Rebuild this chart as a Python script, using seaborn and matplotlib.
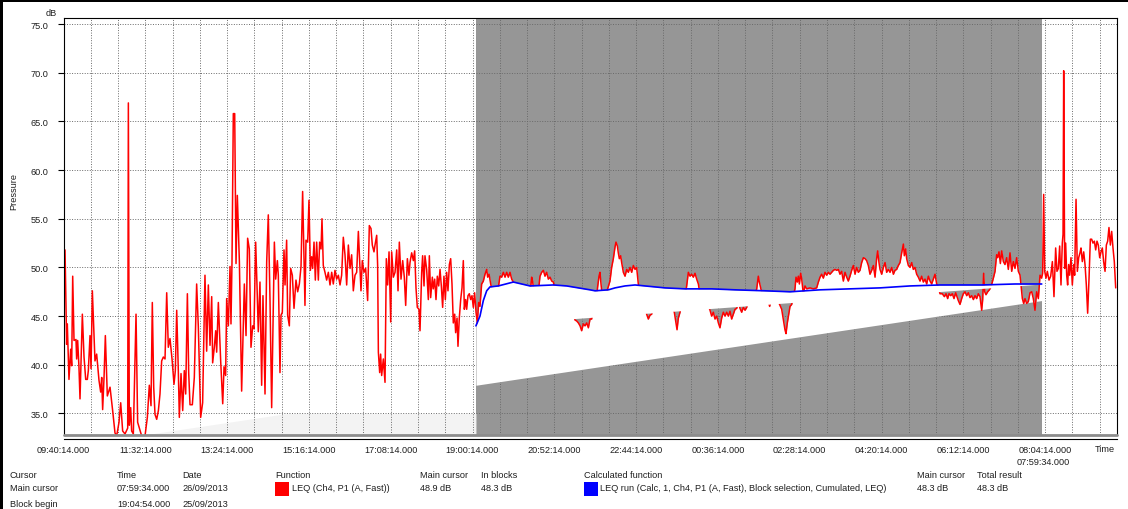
import numpy as np
import pandas as pd
import matplotlib
matplotlib.use("Agg")
import matplotlib.pyplot as plt
import seaborn as sns
from matplotlib.ticker import FuncFormatter
from matplotlib.patches import Rectangle

# ---------------- data (minutes after 25/09/2013 09:40:14, dB) ----------------
START = pd.Timestamp("2013-09-25 09:40:14")
block_begin_min = 564.67      # 19:04:54.000
cursor_min = 1339.33          # 07:59:34.000 (main cursor / block end)
x_end_min = 1441.7
y_range = (32.79, 75.62)
y_ticks = [35.0, 40.0, 45.0, 50.0, 55.0, 60.0, 65.0, 70.0, 75.0]
x_label_step = 112.0
x_grid_step = 112.0 / 3
block_floor_db = (37.9, 46.6)   # lower edge of the white selection polygon

red_before_block = [
    (0.0, 50.0), (2.1, 51.8), (4.3, 42.1), (5.2, 44.2), (7.5, 38.5), (9.8, 41.6), (11.2, 39.9),
    (12.6, 49.1), (14.4, 42.5), (17.1, 42.6), (18.0, 40.6), (19.4, 42.5), (21.2, 39.7), (22.6, 36.5),
    (25.8, 45.2), (28.1, 40.8), (30.4, 38.5), (32.6, 38.5), (34.0, 39.4), (36.3, 43.0), (37.7, 39.6),
    (39.5, 47.6), (43.1, 40.4), (45.4, 41.1), (48.6, 38.4), (50.9, 37.2), (52.3, 38.7), (53.6, 35.4),
    (55.5, 38.7), (57.3, 43.0), (60.0, 36.8), (63.7, 37.7), (67.3, 35.3), (70.5, 33.0), (72.8, 32.7),
    (76.0, 34.1), (78.3, 36.1), (81.0, 33.2), (84.2, 32.9), (87.9, 33.5), (88.8, 66.9), (90.1, 33.8),
    (92.0, 35.6), (93.3, 33.2), (95.6, 32.9), (99.3, 45.2), (101.5, 34.1), (104.7, 33.3), (107.0, 32.7),
    (111.6, 32.7), (114.8, 34.6), (117.5, 37.9), (119.8, 35.8), (121.6, 46.4), (123.5, 37.7), (125.3, 34.9),
    (127.6, 34.4), (129.9, 35.3), (132.1, 37.0), (134.4, 40.4), (136.7, 40.8), (139.0, 40.6), (141.3, 47.4),
    (143.5, 41.8), (145.8, 42.7), (148.6, 40.6), (151.3, 38.0), (153.1, 39.4), (155.0, 45.6), (157.2, 39.4),
    (158.6, 34.6), (160.9, 39.1), (163.2, 35.3), (165.4, 39.4), (167.3, 37.0), (169.6, 47.3), (171.4, 39.2),
    (173.2, 35.9), (176.4, 35.9), (179.1, 38.7), (182.3, 48.3), (184.6, 43.9), (187.8, 34.6), (190.5, 36.1),
    (193.7, 49.2), (196.0, 41.4), (198.3, 48.2), (200.6, 42.0), (202.9, 47.0), (204.2, 40.2), (206.5, 41.8),
    (208.4, 43.5), (209.7, 41.3), (212.0, 46.4), (215.2, 40.4), (218.0, 36.0), (219.8, 39.8), (222.0, 38.9),
    (223.4, 46.8), (225.7, 44.0), (228.0, 50.1), (229.3, 44.2), (230.7, 50.6), (232.5, 65.8), (234.4, 65.8),
    (236.2, 50.4), (238.0, 57.4), (240.8, 50.6),
    (243.9, 37.3), (247.6, 48.3), (249.9, 43.0), (252.1, 53.0), (254.4, 51.9), (256.7, 41.8), (259.0, 44.0),
    (260.8, 43.7), (263.1, 52.6), (264.9, 48.2), (266.7, 43.4), (269.0, 48.5), (271.3, 37.9), (273.1, 47.1),
    (275.9, 37.0), (278.2, 50.6), (280.4, 55.4), (282.7, 46.8), (285.0, 35.6), (288.7, 52.6), (290.5, 48.8),
    (292.8, 50.7), (294.1, 49.2), (296.4, 39.2), (297.8, 45.1), (299.6, 45.4), (301.9, 51.8), (303.3, 48.2),
    (305.5, 52.8), (306.9, 45.1), (309.2, 44.0), (311.0, 49.9), (313.3, 49.2), (315.6, 45.8), (318.3, 48.7),
    (320.6, 47.5), (322.9, 48.3), (325.2, 50.1), (327.4, 57.8), (330.6, 46.1), (332.0, 52.8), (334.3, 52.6),
    (336.1, 56.9), (338.0, 49.7), (339.8, 51.1), (341.1, 49.9), (343.0, 52.6), (344.8, 48.7), (346.6, 52.6),
    (348.9, 48.7), (350.7, 52.6), (352.6, 51.9), (353.9, 55.0), (355.7, 50.2), (358.0, 49.5), (360.3, 48.7),
    (362.6, 49.5), (364.9, 48.2), (367.2, 49.5), (369.4, 48.3), (371.7, 49.7), (374.0, 48.8), (376.3, 49.2),
    (378.6, 48.2), (380.8, 49.2), (383.1, 53.1), (385.4, 51.3), (387.7, 48.2), (390.0, 52.3), (392.3, 49.9),
    (394.5, 51.3), (396.8, 47.6), (399.1, 49.2), (401.4, 49.5), (403.7, 53.7), (406.0, 49.9), (407.3, 47.6),
    (409.1, 50.7), (411.4, 49.5), (413.7, 49.9), (416.4, 46.6), (418.7, 54.3), (421.0, 54.0), (422.8, 52.3),
    (425.1, 51.6), (426.5, 52.3), (428.8, 53.3), (430.1, 50.2), (431.1, 41.3), (432.9, 39.2), (434.2, 41.1),
    (435.6, 38.9), (437.9, 40.6), (440.2, 38.2), (442.0, 50.9), (443.8, 48.2), (445.7, 51.6), (448.0, 44.4),
    (449.3, 51.6), (451.6, 49.0), (453.9, 49.5), (456.2, 51.8), (458.0, 47.6), (459.8, 52.6), (462.1, 48.8),
    (464.4, 50.7), (466.6, 49.0), (468.5, 46.1), (470.8, 50.9), (473.0, 49.2),
    (474.4, 50.5), (476.7, 51.5), (479.0, 50.7), (480.8, 51.7), (482.6, 47.9), (484.4, 45.9), (486.7, 45.7),
    (488.1, 43.5), (490.4, 49.5), (491.7, 51.2), (493.6, 48.1), (494.9, 51.2), (497.2, 49.8), (499.5, 46.7),
    (500.9, 51.2), (502.7, 46.9), (505.0, 49.0), (506.3, 47.8), (508.2, 48.8), (510.0, 46.7), (511.8, 49.1),
    (513.7, 48.1), (515.5, 49.8), (517.3, 48.1), (519.1, 45.9), (520.9, 49.1), (522.8, 46.7), (524.6, 49.5),
    (526.4, 47.6), (528.3, 50.3), (530.1, 50.9), (531.9, 48.3), (533.7, 44.3), (535.6, 45.2), (536.9, 43.3),
    (538.8, 44.8), (540.1, 41.9), (541.9, 44.8), (543.8, 46.7), (545.6, 47.9), (547.4, 50.7), (548.8, 45.7),
    (550.6, 46.7), (552.0, 45.7), (553.8, 47.1), (555.6, 47.3), (557.5, 46.7), (559.3, 47.1), (561.1, 45.9),
    (562.9, 47.4),
]

red_in_block = [
    (564.8, 45.4), (566.6, 44.3), (568.4, 46.4), (570.2, 46.0), (572.5, 48.3), (574.8, 48.6), (577.1, 49.3),
    (579.4, 49.8), (580.7, 49.0), (582.6, 49.3), (584.9, 48.3), (588.5, 47.0), (594.0, 47.2), (597.6, 49.1),
    (599.9, 49.0), (602.2, 49.5), (604.5, 49.0), (606.8, 49.5), (609.0, 49.0), (611.3, 49.5), (613.6, 48.8),
    (615.9, 48.5), (619.5, 47.3), (629.6, 47.0), (638.7, 47.2), (641.0, 49.0), (642.4, 48.5), (644.2, 47.3),
    (650.1, 47.5), (652.4, 49.1), (654.7, 49.5), (657.0, 49.7), (659.2, 49.1), (661.5, 49.5), (663.8, 48.8),
    (666.1, 49.0), (668.4, 48.6), (670.7, 48.5), (673.9, 47.3), (684.3, 46.5), (695.8, 46.0), (700.3, 44.6),
    (702.6, 44.5), (704.9, 44.3), (707.2, 44.0), (709.4, 43.5), (711.7, 44.2), (714.0, 44.0), (716.3, 44.3),
    (718.6, 43.8), (720.9, 44.7), (723.1, 44.7), (725.4, 46.0), (730.0, 47.0), (731.3, 48.0), (733.2, 49.1),
    (734.5, 49.5), (735.9, 48.3), (737.7, 47.0), (742.3, 47.0), (745.0, 47.8), (748.2, 48.6), (750.5, 50.0),
    (752.8, 50.9), (755.1, 52.1), (756.4, 52.6), (758.3, 52.2), (759.6, 51.5), (761.0, 50.9), (762.8, 51.2),
    (764.2, 50.5), (766.5, 49.5), (768.8, 49.1), (771.1, 49.8), (773.3, 49.5), (775.6, 50.0), (777.9, 49.5),
    (780.2, 50.2), (782.5, 49.8), (784.7, 50.0), (787.0, 48.3), (789.3, 47.2), (796.2, 46.0), (798.4, 45.2),
    (800.7, 44.7), (803.0, 45.1), (805.3, 45.2), (807.6, 46.2), (819.0, 47.5), (832.7, 46.0), (836.3, 45.4),
    (838.1, 44.5), (840.0, 43.6), (841.8, 44.8), (844.1, 45.4), (846.4, 46.3), (850.9, 47.0), (853.2, 48.1),
    (855.5, 49.5), (857.8, 49.1), (860.0, 49.3), (862.3, 49.0), (864.6, 49.4), (866.9, 48.8), (869.2, 48.3),
    (871.5, 47.2), (880.6, 46.5), (885.2, 45.6), (887.4, 45.0), (889.7, 45.4), (892.0, 44.7), (894.3, 45.0),
    (896.6, 44.3), (898.8, 43.8), (901.1, 44.8), (903.4, 45.4), (905.7, 45.0), (908.0, 45.4), (910.3, 45.0),
    (912.5, 45.5), (914.8, 44.7), (917.1, 45.2), (919.4, 45.7), (921.7, 45.8), (924.0, 46.5), (926.2, 45.8),
    (928.5, 45.4), (930.8, 45.9), (933.1, 45.6), (935.4, 45.9), (937.6, 46.8), (946.8, 47.2), (949.1, 47.8),
    (951.3, 49.1), (952.7, 48.5), (954.5, 47.9), (956.8, 47.2), (959.1, 47.0), (965.0, 46.5), (966.8, 46.0),
    (968.7, 46.6), (978.7, 46.5), (981.0, 46.1), (983.3, 45.7), (985.5, 44.7), (987.8, 43.6), (989.2, 43.2),
    (991.0, 44.3), (992.9, 45.2), (994.7, 46.0), (997.0, 46.2), (999.0, 47.0), (1001.5, 47.8), (1002.9, 49.0),
    (1004.7, 48.5), (1006.1, 49.1), (1007.5, 48.3), (1009.3, 49.4), (1010.7, 48.8), (1012.9, 47.3),
    (1015.2, 48.1), (1017.5, 47.8), (1022.1, 47.9), (1026.6, 47.8), (1031.2, 47.9), (1033.5, 48.5),
    (1035.8, 49.0), (1038.0, 49.3), (1040.3, 48.9), (1042.6, 49.5), (1044.9, 49.2), (1047.2, 49.5),
    (1049.4, 49.3), (1051.7, 49.5), (1054.0, 49.7), (1056.3, 49.8), (1058.6, 49.7), (1060.9, 49.8),
    (1063.1, 49.3), (1065.4, 49.6), (1067.7, 48.6), (1070.0, 49.5), (1072.3, 49.0), (1074.5, 48.6),
    (1076.8, 49.1), (1079.1, 49.7), (1081.4, 50.2), (1083.7, 49.3), (1085.9, 50.0), (1088.2, 49.5),
    (1090.5, 49.7), (1092.8, 50.5), (1095.1, 51.0), (1097.4, 50.9), (1099.6, 50.7), (1101.9, 50.2),
    (1104.2, 49.3), (1106.5, 49.7), (1108.8, 50.2), (1111.1, 49.0), (1113.3, 50.9), (1114.7, 51.7),
    (1116.5, 50.5), (1117.9, 49.8), (1120.2, 49.3), (1122.5, 50.0), (1124.8, 50.5), (1127.0, 49.5),
    (1129.3, 49.8), (1131.6, 49.5), (1133.9, 50.0), (1136.2, 49.3), (1138.4, 49.7), (1140.7, 49.8),
    (1143.0, 50.2), (1145.3, 50.5), (1147.6, 51.5), (1149.9, 52.4), (1151.2, 51.2), (1153.0, 51.9),
    (1154.4, 50.9), (1156.7, 50.2), (1159.0, 50.0), (1161.3, 50.5), (1163.5, 49.8), (1165.8, 50.0),
    (1168.1, 49.3), (1170.4, 49.0), (1172.7, 48.6), (1174.9, 49.1), (1177.2, 48.5), (1179.5, 48.8),
    (1181.8, 48.3), (1184.1, 49.1), (1186.4, 48.6), (1188.6, 48.3), (1190.9, 48.8), (1193.2, 49.3),
    (1195.5, 48.3), (1197.8, 48.0), (1200.0, 47.3), (1203.2, 47.3), (1206.0, 47.0), (1208.3, 47.3),
    (1210.5, 46.8), (1212.4, 47.3), (1214.7, 47.1), (1216.9, 47.3), (1219.2, 46.8), (1221.5, 47.4),
    (1223.3, 47.0), (1225.1, 46.6), (1227.4, 46.2), (1229.7, 46.8), (1232.0, 47.3), (1234.3, 47.5),
    (1236.6, 47.1), (1238.8, 47.4), (1241.1, 46.9), (1243.4, 47.1), (1245.7, 46.7), (1248.0, 47.1),
    (1250.2, 46.8), (1252.5, 47.3), (1254.8, 47.0), (1257.1, 45.6), (1258.5, 46.7), (1259.8, 49.4),
    (1261.2, 47.5), (1263.0, 47.2), (1265.3, 47.5), (1267.6, 47.7), (1269.9, 48.0), (1273.1, 48.9),
    (1275.4, 49.6), (1277.6, 51.3), (1279.0, 51.0), (1280.8, 51.6), (1282.7, 50.4), (1284.5, 51.7),
    (1286.8, 50.6), (1289.0, 50.3), (1291.3, 51.0), (1293.6, 49.8), (1295.9, 51.5), (1298.2, 49.6),
    (1300.5, 50.6), (1302.7, 49.9), (1305.0, 51.0), (1307.3, 49.6), (1309.6, 49.2), (1310.9, 48.2),
    (1312.8, 46.8), (1314.6, 46.3), (1316.4, 46.8), (1318.7, 46.3), (1321.0, 46.5), (1323.3, 47.4),
    (1325.6, 47.5), (1327.8, 46.8), (1330.1, 45.6), (1332.4, 47.5), (1334.7, 46.8), (1337.0, 49.2),
    (1339.2, 48.9),
]

red_after_block = [
    (1340.6, 49.4), (1342.0, 57.5), (1343.4, 49.6), (1345.2, 48.9), (1347.0, 49.6), (1349.3, 48.7),
    (1351.6, 49.1), (1353.9, 50.6), (1356.1, 47.0), (1358.4, 52.0), (1360.2, 49.6), (1362.1, 49.9),
    (1363.9, 52.2), (1365.7, 48.2), (1367.5, 52.5), (1368.5, 53.4), (1369.4, 70.2), (1370.7, 49.9),
    (1372.1, 52.5), (1373.5, 49.2), (1374.8, 48.2), (1376.2, 50.3), (1377.6, 49.2), (1379.4, 51.0),
    (1381.2, 48.2), (1383.1, 50.3), (1384.4, 49.2), (1386.3, 57.0), (1388.1, 49.6), (1389.9, 51.0),
    (1391.7, 51.5), (1393.1, 52.0), (1394.9, 50.6), (1396.8, 51.6), (1398.6, 50.3), (1400.4, 48.2),
    (1402.2, 45.3), (1404.1, 48.9), (1405.9, 52.9), (1407.7, 52.9), (1409.5, 52.5), (1411.4, 52.7),
    (1413.2, 51.8), (1415.0, 52.7), (1416.8, 52.3), (1418.7, 51.0), (1420.5, 51.6), (1422.3, 52.0),
    (1424.1, 50.6), (1426.0, 49.6), (1427.8, 52.3), (1429.6, 52.7), (1431.4, 54.1), (1433.3, 52.3),
    (1435.1, 53.7), (1436.9, 52.0), (1438.7, 50.6), (1440.6, 47.9),
]

blue_leq_run = [
    (564.67, 44.0), (570.2, 45.0), (574.8, 46.6), (579.4, 47.6), (583.9, 48.0), (595.3, 48.1),
    (615.9, 48.5), (638.7, 48.1), (670.7, 48.2), (688.9, 48.1), (720.9, 47.7), (727.7, 47.6),
    (746.0, 47.7), (755.1, 47.9), (768.8, 48.1), (782.5, 48.2), (809.8, 48.0), (823.5, 47.9),
    (850.9, 47.8), (887.4, 47.8), (919.4, 47.7), (960.5, 47.6), (994.7, 47.5), (1035.8, 47.7),
    (1076.8, 47.8), (1117.9, 47.9), (1159.0, 48.1), (1200.1, 48.2), (1257.1, 48.2), (1302.7, 48.3),
    (1339.33, 48.3),
]

header_row = ["Cursor", "Time", "Date", "Function", "Main cursor", "In blocks",
              "Calculated function", "Main cursor", "Total result"]
main_cursor_row = ["Main cursor", "07:59:34.000", "26/09/2013", "LEQ (Ch4, P1 (A, Fast))", "48.9 dB",
                   "48.3 dB", "LEQ run (Calc, 1, Ch4, P1 (A, Fast), Block selection, Cumulated, LEQ)",
                   "48.3 dB", "48.3 dB"]
block_row = ["Block begin", "19:04:54.000", "25/09/2013"]

# ---------------- drawing ----------------
W, H = 1128, 510
sns.set_theme(style="white")
plt.rcParams["font.family"] = ["Liberation Sans", "DejaVu Sans"]
FS = 6.6
TXT = "#1e1e1e"

fig = plt.figure(figsize=(W / 100, H / 100), dpi=100)
fig.patch.set_facecolor("white")
L, R, T, B = 63.5, 1116.5, 19, 436
ax = fig.add_axes([L / W, 1 - B / H, (R - L) / W, (B - T) / H])
ax.set_facecolor("white")

red = pd.DataFrame(red_before_block + red_in_block + red_after_block, columns=["minutes", "db"])
blue = pd.DataFrame(blue_leq_run, columns=["minutes", "db"])

ax.set_xlim(0, x_end_min)
ax.set_ylim(*y_range)

# selected block background
ax.axvspan(block_begin_min, cursor_min, color="#969696", lw=0, zorder=0.2)

# faint extension of the selection floor on the left (capped at the 35 dB line)
slope = (block_floor_db[1] - block_floor_db[0]) / (cursor_min - block_begin_min)
t0 = block_begin_min - (block_floor_db[0] - y_range[0]) / slope
tw = np.linspace(t0, block_begin_min, 60)
ax.fill_between(tw, y_range[0],
                np.minimum(block_floor_db[0] + slope * (tw - block_begin_min), 35.0),
                color="#f3f3f3", lw=0, zorder=0.3)

# white selection polygon between floor chord and measured curve
inb = red[(red.minutes > block_begin_min) & (red.minutes < cursor_min)]
tb = np.r_[block_begin_min, inb.minutes.values, cursor_min]
rb = np.interp(tb, red.minutes.values, red.db.values)
floor = np.interp(tb, [block_begin_min, cursor_min], block_floor_db)
ax.fill_between(tb, floor, rb, color="white", lw=0, zorder=1)

sns.lineplot(data=red, x="minutes", y="db", color="#ff0000", lw=1.1, ax=ax,
             estimator=None, sort=False, legend=False, zorder=2)

# white polygon of the cumulated run
bt = blue.minutes.values
chord2 = np.interp(bt, [bt[0], bt[-1]], [blue.db.values[0], blue.db.values[-1]])
ax.fill_between(bt, chord2, blue.db.values, color="white", lw=0, zorder=2.5)
sns.lineplot(data=blue, x="minutes", y="db", color="#0000ff", lw=1.2, ax=ax,
             estimator=None, sort=False, legend=False, zorder=3)

# axes decorations
majors = np.arange(0, x_end_min, x_label_step)
grid_pos = np.arange(0, x_end_min, x_grid_step)
minors = [g for i, g in enumerate(grid_pos) if i % 3 != 0]
ax.set_xticks(majors)
ax.set_xticks(minors, minor=True)
ax.set_yticks(y_ticks)
ax.xaxis.set_major_formatter(FuncFormatter(
    lambda v, p: (START + pd.Timedelta(minutes=float(v))).strftime("%H:%M:%S") + ".000"))
ax.yaxis.set_major_formatter(FuncFormatter(lambda v, p: f"{v:.1f}"))
ax.set_xlabel("")
ax.set_ylabel("")

ax.set_axisbelow(True)
gstyle = dict(color="#6a6a6a", linestyle=(0, (1, 1.6)), linewidth=0.7)
ax.grid(True, which="both", axis="x", **gstyle)
ax.grid(True, which="major", axis="y", **gstyle)

ax.tick_params(axis="x", which="both", direction="inout", length=5, width=0.8, color="black",
               labelsize=FS, labelcolor=TXT, pad=2)
ax.tick_params(axis="y", which="major", direction="out", length=4, width=0.8, color="black",
               labelsize=FS, labelcolor=TXT, pad=7, left=True)

for s in ["left", "top", "right", "bottom"]:
    ax.spines[s].set_visible(True)
    ax.spines[s].set_color("black")
    ax.spines[s].set_linewidth(0.8)
ax.spines["bottom"].set_position(("outward", 2.6))
ax.axhline(y_range[0], color="#8c8c8c", lw=2.0, zorder=4, clip_on=False)

# labels
def fx(x):
    return x / W

def fy(y):
    return 1 - y / H

fig.text(fx(51), fy(13), "dB", ha="center", va="center", fontsize=FS, color=TXT)
fig.text(fx(14), fy(192), "Pressure", ha="center", va="center", rotation=90, fontsize=FS, color=TXT)
fig.text(fx(1105), fy(450), "Time", ha="center", va="center", fontsize=FS, color=TXT)
fig.text(fx(1043), fy(463), "07:59:34.000", ha="center", va="center", fontsize=FS, color=TXT)

# table underneath
col_x = [10, 117, 182, 275, 420, 481, 584, 917, 977]
for x, s in zip(col_x, header_row):
    fig.text(fx(x), fy(476), s, ha="left", va="center", fontsize=FS, color=TXT)
row2_x = [10, 117, 182, 292, 420, 481, 600, 917, 977]
for x, s in zip(row2_x, main_cursor_row):
    fig.text(fx(x), fy(489), s, ha="left", va="center", fontsize=FS, color=TXT)
for x, s in zip(col_x[:3], block_row):
    fig.text(fx(x), fy(505), s, ha="left", va="center", fontsize=FS, color=TXT)

fig.patches.append(Rectangle((fx(275), fy(497)), 14 / W, 14 / H, transform=fig.transFigure,
                             facecolor="#ff0000", edgecolor="none"))
fig.patches.append(Rectangle((fx(584), fy(497)), 14 / W, 14 / H, transform=fig.transFigure,
                             facecolor="#0000ff", edgecolor="none"))

# window border (top and left)
fig.patches.append(Rectangle((0, fy(3)), 1, 3 / H, transform=fig.transFigure,
                             facecolor="black", edgecolor="none"))
fig.patches.append(Rectangle((0, 0), 3 / W, 1, transform=fig.transFigure,
                             facecolor="black", edgecolor="none"))

fig.savefig("out.png", dpi=100)
